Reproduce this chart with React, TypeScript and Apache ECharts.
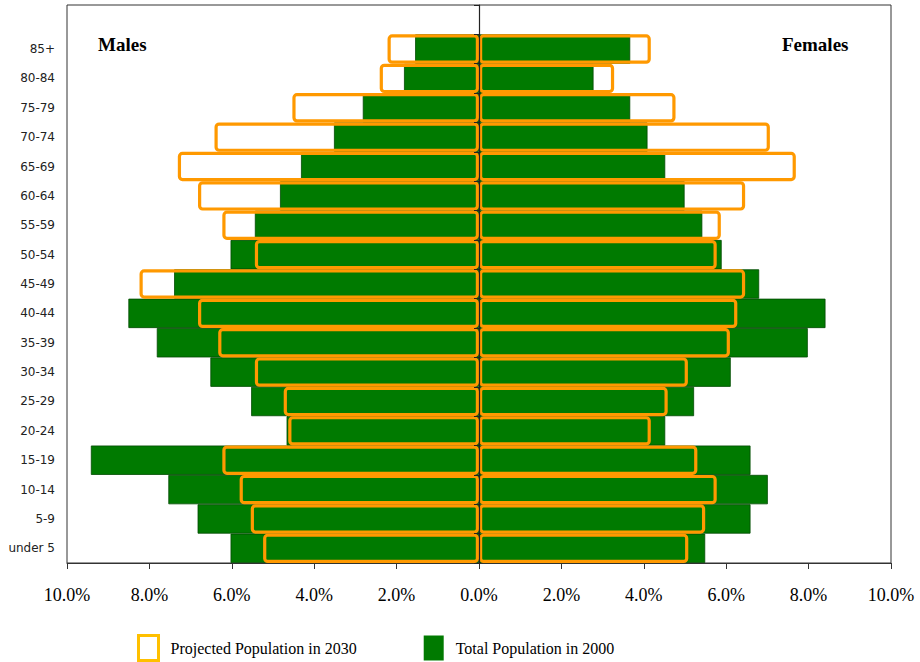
import React, { useEffect, useRef } from "react";
import * as echarts from "echarts";

// Age groups, bottom to top
const ageGroups = [
  "under 5", "5-9", "10-14", "15-19", "20-24", "25-29", "30-34", "35-39", "40-44",
  "45-49", "50-54", "55-59", "60-64", "65-69", "70-74", "75-79", "80-84", "85+",
];

// Total population in 2000 (% of total)
const males2000 = [6.03, 6.83, 7.54, 9.42, 4.67, 5.53, 6.52, 7.82, 8.51, 7.4, 6.03, 5.44, 4.83, 4.32, 3.52, 2.82, 1.82, 1.55];
const females2000 = [5.49, 6.59, 7.01, 6.59, 4.52, 5.22, 6.11, 7.98, 8.41, 6.8, 5.89, 5.42, 4.99, 4.52, 4.09, 3.67, 2.78, 3.67];

// Projected population in 2030 (% of total)
const males2030 = [5.24, 5.54, 5.81, 6.23, 4.63, 4.74, 5.44, 6.33, 6.82, 8.24, 5.44, 6.23, 6.82, 7.31, 6.42, 4.53, 2.41, 2.22];
const females2030 = [5.08, 5.49, 5.77, 5.3, 4.17, 4.58, 5.07, 6.09, 6.27, 6.46, 5.77, 5.87, 6.46, 7.69, 7.06, 4.77, 3.28, 4.17];

const xTicks = { min: -10, max: 10, interval: 2 };

const NAME_2030 = "Projected Population in 2030";
const NAME_2000 = "Total Population in 2000";

export default function App() {
  const ref = useRef<HTMLDivElement>(null);

  useEffect(() => {
    document.body.style.margin = "0";
    if (!ref.current) return;
    const chart = echarts.init(ref.current, null, { renderer: "svg" });
    const cats = [...ageGroups, ""];
    const serif = "'Liberation Serif', 'Times New Roman', serif";
    const green = "#007A00";
    const orange = "#FF9900";

    const greenStyle = { color: green, borderColor: "#004A00", borderWidth: 0.8 };
    const orangeStyle = { color: "rgba(0,0,0,0)", borderColor: orange, borderWidth: 3.2, borderRadius: 3 };

    chart.setOption({
      animation: false,
      backgroundColor: "#fff",
      grid: {
        left: 67,
        right: 29,
        top: 5,
        bottom: 99,
        show: true,
        borderColor: "#333",
        borderWidth: 1,
        containLabel: false,
      },
      xAxis: {
        type: "value",
        min: xTicks.min,
        max: xTicks.max,
        interval: xTicks.interval,
        splitLine: { show: false },
        axisLine: { show: true, lineStyle: { color: "#333", width: 1 } },
        axisTick: { show: true, length: 6, lineStyle: { color: "#333" } },
        axisLabel: {
          margin: 23,
          fontFamily: serif,
          fontSize: 18,
          color: "#000",
          formatter: (v: number) => Math.abs(v).toFixed(1) + "%",
        },
      },
      yAxis: [
        {
          type: "category",
          data: cats,
          position: "left",
          axisLine: { show: false, onZero: false },
          axisTick: { show: false },
          axisLabel: {
            margin: 12,
            fontFamily: "'DejaVu Sans', sans-serif",
            fontSize: 12,
            color: "#222",
          },
        },
        {
          type: "category",
          data: cats,
          position: "left",
          z: 10,
          axisLine: { show: true, onZero: true, lineStyle: { color: "#222", width: 1.2 } },
          axisTick: { show: true, length: 5, alignWithLabel: false, lineStyle: { color: "#222" } },
          axisLabel: { show: false },
        },
      ],
      legend: {
        left: 132,
        top: 629,
        itemWidth: 20,
        itemHeight: 25,
        itemGap: 67,
        textStyle: { fontFamily: serif, fontSize: 16, color: "#000", padding: [5, 0, 0, 7] },
        data: [
          {
            name: NAME_2030,
            icon: "rect",
            itemStyle: { color: "rgba(0,0,0,0)", borderColor: "#FFC000", borderWidth: 3 },
          },
          {
            name: NAME_2000,
            icon: "rect",
            itemStyle: { color: green, borderWidth: 0 },
          },
        ],
      },
      graphic: [
        {
          type: "text",
          left: 98,
          top: 35,
          style: { text: "Males", font: `bold 19px ${serif}`, fill: "#000" },
        },
        {
          type: "text",
          left: 782,
          top: 35,
          style: { text: "Females", font: `bold 19px ${serif}`, fill: "#000" },
        },
      ],
      series: [
        {
          name: NAME_2000,
          type: "bar",
          barGap: "-100%",
          barCategoryGap: "0%",
          data: males2000.map((v) => -v),
          itemStyle: greenStyle,
        },
        {
          name: NAME_2000,
          type: "bar",
          barGap: "-100%",
          barCategoryGap: "0%",
          data: females2000,
          itemStyle: greenStyle,
        },
        {
          name: NAME_2030,
          type: "bar",
          barGap: "-100%",
          barCategoryGap: "0%",
          data: males2030.map((v) => -v),
          itemStyle: orangeStyle,
        },
        {
          name: NAME_2030,
          type: "bar",
          barGap: "-100%",
          barCategoryGap: "0%",
          data: females2030,
          itemStyle: orangeStyle,
        },
      ],
    });

    return () => chart.dispose();
  }, []);

  return <div ref={ref} style={{ width: 920, height: 662 }} />;
}
